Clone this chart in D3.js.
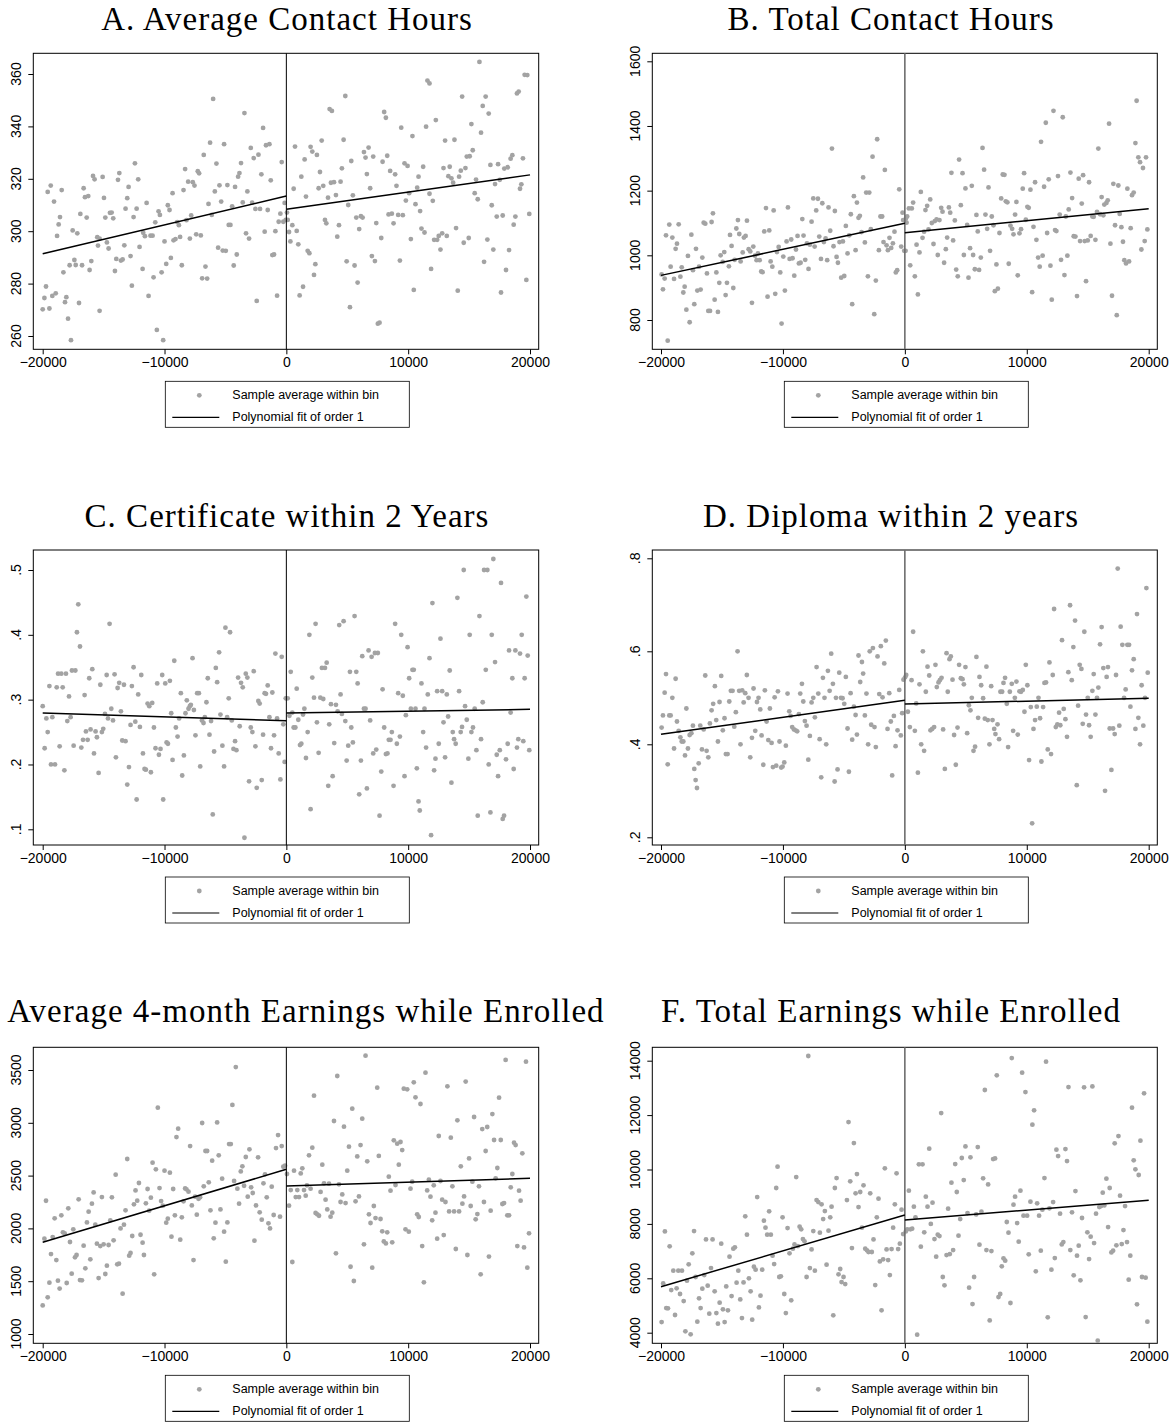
<!DOCTYPE html>
<html>
<head>
<meta charset="utf-8">
<script src="https://cdn.jsdelivr.net/npm/d3@7"></script>
<style>
  body { margin: 0; background: #fff; }
  svg { display: block; }
  .title { font-family: "Liberation Serif", "Times New Roman", serif; font-size: 33px; letter-spacing: 1px; fill: #000; }
  .tick text, .ylab { font-family: "Liberation Sans", Arial, sans-serif; font-size: 14px; fill: #000; }
  .legend text { font-family: "Liberation Sans", Arial, sans-serif; font-size: 12.5px; fill: #000; }
  .dot { fill: #a3a3a3; }
</style>
</head>
<body>
<svg id="chart" width="1175" height="1422"></svg>
<script>
// ---- data ----
const xTicks = [-20000, -10000, 0, 10000, 20000];

// A. Average Contact Hours
const binsA = [
 [-20000,270.2],[-19860,274.5],[-19730,278.9],[-19590,315],[-19450,270.5],[-19340,317.4],[-19210,275.3],[-19070,311.3],[-18930,276.3],[-18820,298.2],
 [-18690,302.6],[-18580,305.4],[-18440,315.7],[-18300,284.3],[-18170,272.9],[-18060,274.8],[-17920,266.6],[-17790,287],[-17680,258.4],[-17540,300.3],
 [-17400,289],[-17290,287.1],[-17160,299.2],[-17020,272.6],[-16910,306.6],[-16770,287],[-16640,316.4],[-16530,313],[-16390,305.2],[-16260,313.4],
 [-16150,285.2],[-16010,288.6],[-15870,321.1],[-15740,319.8],[-15520,297.7],[-15460,294.5],[-15330,297.2],[-15330,269.6],[-15080,320.7],[-14970,312.7],
 [-14860,305.2],[-14730,295.7],[-14590,293.4],[-14480,307],[-14340,307.1],[-14210,304.9],[-14070,284.8],[-13960,289.4],[-13820,319.6],[-13710,322.2],
 [-13580,288.8],[-13440,289.2],[-13300,294.6],[-13200,308.6],[-13060,312.6],[-12950,316.9],[-12790,290.5],[-12680,279.2],[-12540,305.4],[-12430,325.9],
 [-12290,308.6],[-12160,319.8],[-12050,294],[-11800,285.6],[-11750,299.4],[-11610,298.1],[-11470,310.8],[-11310,275.3],[-11150,298.3],[-10980,298.3],
 [-10900,282.4],[-10760,303.4],[-10630,262.3],[-10490,307.6],[-10380,306.2],[-10240,284.3],[-10110,258.4],[-10000,296.1],[-9860,287.5],[-9730,309.9],
 [-9590,308.1],[-9480,289.8],[-9340,314.5],[-9260,296.5],[-9100,297],[-8960,303.5],[-8820,302.3],[-8720,297.8],[-8580,287],[-8440,315.7],
 [-8310,323.7],[-8200,304.2],[-8060,318.9],[-7920,297.2],[-7810,306],[-7680,318.7],[-7540,317.4],[-7400,298.8],[-7270,322.9],[-7160,322.1],
 [-7020,298.4],[-6910,282],[-6780,329.1],[-6640,286.5],[-6500,281.9],[-6390,310.4],[-6260,333.8],[-6120,306.2],[-6010,350.5],[-5870,315.2],
 [-5740,325.8],[-5600,293.7],[-5490,317.5],[-5350,311.3],[-5220,292.6],[-5110,333.2],[-4970,292.5],[-4840,317.6],[-4730,302.4],[-4590,302.4],
 [-4450,309.5],[-4320,286.9],[-4210,316.9],[-4070,291.1],[-3960,320.8],[-3850,322.2],[-3720,326],[-3580,311],[-3440,345.1],[-3310,299.2],
 [-3200,315.2],[-3060,297.2],[-2920,331.8],[-2810,310.9],[-2680,327.9],[-2540,308.5],[-2430,273.4],[-2290,329.2],[-2160,308.5],[-2050,321.7],
 [-1910,339.4],[-1780,299.8],[-1670,332.8],[-1530,308.1],[-1390,333.2],[-1280,319.4],[-1150,290.9],[-1010,291.1],[-900,300],[-760,275.4],
 [-630,303.6],[-490,306.7],[-380,326.4],[-250,303.6],[-140,310.8],[-50,304.3],
 [50,307.1],[110,304.3],[220,299.7],[330,296.1],[490,302.3],[600,316.2],[710,332.3],[850,300.1],[980,295],[1090,275.5],
 [1230,320.8],[1370,278.8],[1500,327.4],[1610,313.2],[1750,292.5],[1890,291.6],[1990,332.2],[2130,330.4],[2270,283.3],[2380,287.4],
 [2510,329.1],[2650,316.4],[2760,322.6],[2900,334.6],[3030,317.3],[3170,304.3],[3280,303],[3420,312.8],[3550,346.6],[3660,318.5],
 [3740,345.9],[3910,318.7],[4070,313.8],[4180,297.9],[4320,302.3],[4450,318.9],[4560,324],[4700,334.9],[4840,351.6],[4950,288.5],
 [5080,310],[5220,271],[5330,326.8],[5460,313.7],[5600,286.9],[5740,305.2],[5850,280.4],[5980,300.8],[6120,305.7],[6260,305.2],
 [6370,330.2],[6500,328.1],[6610,321.8],[6750,331.9],[6880,316.4],[7020,290.5],[7130,328.5],[7270,288.6],[7380,303.1],[7510,264.7],
 [7650,265.1],[7790,297.4],[7900,326.5],[8030,345.5],[8170,343.3],[8280,328.8],[8390,306.4],[8520,323],[8660,306.7],[8800,303],
 [8930,321.7],[9040,317.3],[9180,306.2],[9320,288.8],[9430,339.5],[9560,306.1],[9700,325.9],[9810,311.7],[9950,324.9],[10080,314.5],
 [10220,297],[10350,336.3],[10460,277.6],[10600,310.3],[10740,316.6],[10850,320.8],[10980,307.7],[11090,301],[11230,324.6],[11340,299.5],
 [11470,339.9],[11580,357.5],[11750,356.4],[11750,314.3],[11880,285.6],[12020,311.6],[12130,296.7],[12270,342.4],[12380,296.7],[12510,298.2],
 [12650,293],[12790,299.2],[12900,324.1],[13030,334.6],[13170,298.2],[13300,321],[13410,324.6],[13550,320.2],[13690,318.5],[13800,334.9],
 [13930,301.2],[14070,277.3],[14180,320.8],[14320,323.1],[14430,351.4],[14560,295.6],[14700,324.1],[14810,328.5],[14970,297.4],[15050,328.6],
 [15190,340.9],[15300,330.9],[15460,314.5],[15570,319.7],[15710,312.2],[15850,364.6],[15980,337.6],[16120,347.8],[16230,288.3],[16360,351.4],
 [16500,296.8],[16610,344.9],[16750,325.3],[16860,309.9],[16990,293],[17130,318],[17270,305.6],[17380,325.6],[17520,319.6],[17620,276.6],
 [17760,306],[17890,323.9],[18030,285.2],[18170,324.4],[18280,292.8],[18410,327.7],[18550,329],[18660,302.5],[18800,305.6],[18930,352.6],
 [19070,353.3],[19180,316.2],[19290,317.9],[19420,327.8],[19560,359.7],[19700,281.4],[19780,359.6],[19940,306.6]
];
const fitA = [[[-20000, 291.4], [0, 313.4]], [[0, 308.4], [20000, 321.5]]];
const yTicksA = [260, 280, 300, 320, 340, 360];

// B. Total Contact Hours
const binsB = [
 [-19950,941],[-19840,895],[-19700,928],[-19590,1062],[-19450,736],[-19320,1095],[-19210,965],[-19070,1055],[-18930,927],[-18800,1020],
 [-18690,1036],[-18550,1096],[-18410,934],[-18300,963],[-18170,885],[-18060,903],[-17920,832],[-17790,998],[-17650,793],[-17510,1064],
 [-17380,954],[-17270,849],[-17130,1020],[-17020,891],[-16880,965],[-16750,894],[-16610,993],[-16500,1101],[-16370,1098],[-16230,944],
 [-16120,828],[-15980,828],[-15850,1103],[-15740,1130],[-15600,863],[-15460,947],[-15330,825],[-15220,915],[-15110,1000],[-14940,980],
 [-14810,1010],[-14700,877],[-14590,915],[-14430,966],[-14340,1063],[-14210,1029],[-14070,899],[-13960,986],[-13820,1083],[-13690,1109],
 [-13580,1066],[-13470,981],[-13300,1009],[-13200,1055],[-13060,1060],[-12950,1107],[-12810,1019],[-12680,1012],[-12540,853],[-12430,1027],
 [-12290,999],[-12160,985],[-12050,1006],[-11910,985],[-11780,950],[-11670,948],[-11530,1074],[-11390,1146],[-11260,872],[-11120,1077],
 [-11010,981],[-10870,965],[-10760,1139],[-10630,881],[-10490,1010],[-10350,1026],[-10220,947],[-10110,789],[-9970,996],[-9840,891],
 [-9700,1043],[-9590,1148],[-9450,989],[-9320,1049],[-9210,991],[-9070,937],[-8930,1018],[-8800,1060],[-8690,975],[-8550,977],
 [-8410,1112],[-8310,1061],[-8170,986],[-8030,1037],[-7900,958],[-7790,1033],[-7650,1104],[-7510,1176],[-7400,1027],[-7270,1139],
 [-7130,1175],[-7020,1058],[-6880,989],[-6770,1161],[-6640,1041],[-6500,1052],[-6370,985],[-6260,1148],[-6120,1076],[-5980,1330],
 [-5850,1028],[-5740,1137],[-5600,995],[-5490,977],[-5360,1041],[-5220,931],[-5080,1043],[-4970,936],[-4840,1091],[-4700,1006],
 [-4560,1062],[-4430,1127],[-4320,849],[-4180,1183],[-4040,1016],[-3930,1163],[-3800,1116],[-3690,1122],[-3550,1072],[-3420,1241],
 [-3280,1040],[-3170,1194],[-3030,935],[-2920,1194],[-2790,1081],[-2650,1305],[-2510,818],[-2380,922],[-2270,1359],[-2130,1016],
 [-2000,1120],[-1860,1120],[-1750,1041],[-1640,1264],[-1500,1031],[-1390,1016],[-1260,1054],[-1120,1023],[-980,1037],[-850,1073],
 [-740,947],[-630,954],[-460,1204],[-300,1027],[-190,1132],[-140,1109],[-50,1014],
 [80,1113],[140,1101],[60,1014],[190,1120],[330,1145],[440,969],[570,1145],[680,1163],[820,935],[960,1033],
 [1070,879],[1200,1009],[1310,1196],[1450,1054],[1580,1073],[1690,1140],[1830,1153],[1940,1080],[2080,1173],[2210,1100],
 [2350,1035],[2460,1106],[2600,1111],[2700,1001],[2840,1109],[2980,1147],[3090,1135],[3220,977],[3360,1019],[3470,1055],
 [3610,1148],[3720,1132],[3820,1255],[3960,1046],[4100,1108],[4210,956],[4340,935],[4450,1296],[4590,1155],[4730,1254],
 [4840,1001],[4970,1207],[5110,1094],[5220,931],[5350,1022],[5490,1215],[5600,1001],[5740,957],[5870,1125],[5980,1074],
 [6090,955],[6230,993],[6370,1332],[6500,1265],[6610,1126],[6750,1082],[6860,1210],[6990,1014],[7130,1120],[7270,1093],
 [7380,889],[7510,972],[7630,897],[7760,1069],[7900,1176],[8030,1250],[8170,1249],[8280,1167],[8410,1164],[8520,974],
 [8660,1092],[8800,1082],[8910,1065],[9040,1126],[9150,1165],[9260,938],[9400,1068],[9530,1081],[9670,1206],[9780,1254],
 [9920,1110],[10050,1150],[10160,1147],[10300,1203],[10440,886],[10550,1088],[10680,1226],[10790,1048],[10930,993],[11060,965],
 [11170,1351],[11300,999],[11420,1212],[11560,1410],[11670,1069],[11800,1235],[11940,968],[12050,863],[12190,1447],[12320,1078],
 [12430,1075],[12560,1245],[12700,1126],[12810,986],[12950,1427],[13090,939],[13200,1120],[13330,999],[13440,1142],[13580,1256],
 [13720,1177],[13850,1059],[13990,1058],[14120,874],[14260,1237],[14370,1044],[14510,1160],[14620,1248],[14750,1044],[14860,920],
 [15000,1046],[15110,1226],[15240,1060],[15380,1120],[15490,1119],[15630,1048],[15760,1134],[15870,1330],[16010,1127],[16140,1180],
 [16280,1124],[16360,1157],[16530,1162],[16640,1170],[16750,1407],[16860,1036],[16990,875],[17100,1221],[17240,1093],[17380,815],
 [17510,1216],[17620,1128],[17760,1087],[17890,1042],[18000,985],[18140,975],[18250,1206],[18390,981],[18520,1084],[18630,1186],
 [18770,1194],[18910,1347],[19010,1478],[19150,1303],[19290,1288],[19400,1018],[19530,1270],[19670,1044],[19780,1303],[19890,1080]
];
const fitB = [[[-20000, 938], [0, 1099]], [[0, 1070], [20000, 1144]]];
const yTicksB = [800, 1000, 1200, 1400, 1600];

// C. Certificate within 2 Years
const binsC = [
 [-20000,.290],[-19840,.225],[-19700,.271],[-19590,.250],[-19450,.321],[-19320,.200],[-19210,.273],[-18990,.200],[-18850,.319],[-18740,.340],
 [-18610,.228],[-18470,.340],[-18360,.319],[-18220,.191],[-18090,.340],[-17980,.267],[-17840,.305],[-17710,.273],[-17600,.345],[-17460,.229],
 [-17320,.345],[-17190,.404],[-17080,.447],[-16940,.382],[-16830,.226],[-16690,.238],[-16560,.307],[-16450,.251],[-16310,.238],[-16180,.333],
 [-16070,.254],[-15930,.347],[-15790,.217],[-15660,.251],[-15550,.242],[-15410,.187],[-15270,.323],[-15140,.250],[-15030,.255],[-14890,.278],
 [-14750,.338],[-14640,.271],[-14510,.417],[-14370,.286],[-14230,.268],[-14100,.339],[-13990,.211],[-13850,.318],[-13720,.326],[-13580,.282],
 [-13470,.237],[-13330,.323],[-13200,.236],[-13060,.169],[-12920,.196],[-12790,.261],[-12680,.321],[-12540,.350],[-12400,.266],[-12290,.146],
 [-12160,.308],[-12020,.258],[-11910,.338],[-11770,.217],[-11640,.193],[-11530,.192],[-11390,.294],[-11250,.290],[-11120,.188],[-11010,.295],
 [-10870,.257],[-10740,.225],[-10600,.325],[-10460,.215],[-10330,.224],[-10190,.338],[-10110,.146],[-9940,.325],[-9830,.234],[-9720,.232],
 [-9560,.329],[-9450,.279],[-9340,.207],[-9200,.360],[-9070,.257],[-8930,.243],[-8800,.271],[-8660,.310],[-8550,.183],[-8410,.214],
 [-8280,.279],[-8170,.299],[-8030,.286],[-7920,.290],[-7840,.292],[-7700,.364],[-7590,.284],[-7460,.245],[-7320,.310],[-7180,.310],
 [-7070,.197],[-6930,.268],[-6800,.264],[-6690,.273],[-6560,.296],[-6450,.333],[-6310,.246],[-6180,.267],[-6040,.123],[-5930,.220],
 [-5790,.349],[-5680,.327],[-5520,.373],[-5410,.277],[-5250,.229],[-5110,.197],[-5000,.411],[-4860,.273],[-4730,.302],[-4620,.404],
 [-4480,.268],[-4340,.224],[-4210,.236],[-4100,.222],[-3960,.334],[-3830,.259],[-3720,.326],[-3580,.319],[-3440,.087],[-3330,.340],
 [-3200,.334],[-3060,.174],[-2920,.257],[-2790,.250],[-2680,.344],[-2540,.228],[-2430,.164],[-2300,.298],[-2190,.294],[-2020,.176],
 [-1910,.246],[-1780,.310],[-1670,.309],[-1530,.322],[-1390,.273],[-1260,.225],[-1150,.311],[-1010,.245],[-900,.371],[-760,.271],
 [-630,.217],[-490,.177],[-380,.366],[-250,.262],[-140,.204],[-50,.302],
 [110,.302],[250,.275],[360,.343],[490,.280],[600,.257],[740,.257],[850,.317],[980,.269],[1120,.230],[1230,.232],
 [1370,.277],[1480,.286],[1610,.210],[1750,.250],[1890,.400],[1990,.131],[2130,.334],[2270,.303],[2400,.417],[2510,.265],
 [2650,.218],[2790,.303],[2920,.349],[3030,.301],[3170,.349],[3310,.357],[3440,.167],[3520,.262],[3660,.293],[3800,.182],
 [3930,.233],[4070,.292],[4210,.282],[4340,.415],[4450,.308],[4560,.278],[4700,.421],[4840,.267],[4950,.206],[5080,.229],
 [5220,.343],[5330,.257],[5460,.234],[5600,.429],[5740,.343],[5850,.325],[5980,.154],[6120,.206],[6230,.367],[6370,.286],
 [6500,.286],[6610,.163],[6750,.376],[6880,.268],[7000,.366],[7130,.217],[7270,.372],[7380,.223],[7510,.372],[7650,.121],
 [7790,.189],[7900,.316],[8030,.257],[8170,.216],[8300,.217],[8410,.238],[8550,.238],[8660,.250],[8800,.167],[8930,.417],
 [9070,.232],[9180,.310],[9320,.243],[9430,.400],[9560,.306],[9700,.182],[9810,.276],[9950,.381],[10080,.333],[10220,.286],
 [10350,.346],[10460,.346],[10600,.286],[10710,.194],[10850,.143],[10950,.129],[11090,.325],[11230,.250],[11340,.286],[11470,.226],
 [11610,.308],[11750,.364],[11880,.091],[11990,.449],[12130,.191],[12240,.209],[12380,.313],[12510,.232],[12650,.394],[12790,.313],
 [12900,.265],[13030,.211],[13170,.308],[13280,.274],[13410,.345],[13550,.172],[13660,.250],[13770,.239],[13900,.232],[14040,.457],
 [14180,.313],[14310,.250],[14420,.258],[14560,.500],[14670,.290],[14810,.269],[14940,.209],[15050,.400],[15190,.250],[15320,.257],
 [15460,.286],[15600,.222],[15710,.121],[15850,.429],[15980,.239],[16120,.296],[16230,.500],[16370,.346],[16500,.500],[16610,.200],
 [16750,.126],[16860,.400],[16990,.517],[17130,.358],[17270,.215],[17380,.182],[17520,.222],[17620,.480],[17760,.116],[17870,.121],
 [18030,.208],[18170,.232],[18280,.376],[18410,.280],[18550,.333],[18660,.193],[18800,.376],[18930,.226],[19040,.239],[19180,.371],
 [19320,.400],[19450,.236],[19560,.333],[19700,.459],[19810,.368],[19940,.222]
];
const fitC = [[[-20000, .2795], [0, .2676]], [[0, .2795], [20000, .285]]];
const yTicksC = [.1, .2, .3, .4, .5];

// D. Diploma within 2 years
const binsD = [
 [-19950,.436],[-19840,.462],[-19700,.511],[-19590,.551],[-19450,.357],[-19320,.462],[-19210,.462],[-19070,.500],[-18930,.391],[-18800,.541],
 [-18690,.449],[-18550,.429],[-18410,.415],[-18300,.406],[-18170,.406],[-18030,.376],[-17920,.477],[-17790,.391],[-17650,.420],[-17510,.424],
 [-17380,.440],[-17270,.347],[-17160,.323],[-17050,.306],[-16910,.359],[-16780,.440],[-16640,.389],[-16500,.432],[-16370,.548],[-16260,.386],
 [-16120,.372],[-15990,.445],[-15850,.473],[-15720,.487],[-15580,.525],[-15470,.452],[-15330,.406],[-15200,.491],[-15060,.547],[-14930,.430],
 [-14790,.456],[-14680,.379],[-14540,.379],[-14400,.492],[-14270,.515],[-14130,.515],[-13990,.438],[-13860,.469],[-13720,.600],[-13590,.515],
 [-13480,.400],[-13340,.516],[-13220,.490],[-13090,.510],[-12960,.549],[-12820,.500],[-12680,.372],[-12540,.414],[-12410,.520],[-12270,.429],
 [-12130,.491],[-12000,.500],[-11860,.475],[-11750,.419],[-11610,.356],[-11480,.516],[-11340,.449],[-11200,.409],[-11070,.477],[-10930,.403],
 [-10820,.351],[-10680,.501],[-10550,.354],[-10410,.514],[-10280,.406],[-10140,.350],[-10030,.352],[-9890,.361],[-9760,.397],[-9620,.509],
 [-9480,.471],[-9370,.461],[-9240,.437],[-9100,.432],[-8960,.430],[-8830,.428],[-8690,.465],[-8580,.509],[-8440,.530],[-8330,.492],
 [-8200,.450],[-8060,.440],[-7920,.367],[-7790,.418],[-7650,.490],[-7510,.500],[-7380,.458],[-7240,.566],[-7100,.509],[-6990,.411],
 [-6860,.329],[-6720,.543],[-6590,.500],[-6450,.400],[-6310,.558],[-6170,.515],[-6040,.595],[-5900,.530],[-5760,.320],[-5650,.500],
 [-5520,.346],[-5380,.554],[-5240,.500],[-5110,.499],[-4970,.487],[-4840,.545],[-4700,.434],[-4590,.341],[-4450,.510],[-4320,.410],
 [-4180,.481],[-4040,.463],[-3930,.421],[-3800,.591],[-3660,.534],[-3520,.577],[-3420,.552],[-3280,.462],[-3150,.509],[-3010,.400],
 [-2880,.600],[-2760,.442],[-2620,.607],[-2490,.437],[-2380,.394],[-2240,.589],[-2100,.508],[-1970,.611],[-1830,.501],[-1690,.574],
 [-1560,.623],[-1420,.433],[-1280,.510],[-1150,.449],[-1040,.333],[-900,.461],[-760,.396],[-600,.430],[-460,.517],[-330,.419],
 [-220,.467],[-110,.539],
 [20,.544],[110,.549],[250,.470],[410,.437],[550,.538],[680,.642],[820,.429],[930,.488],[1070,.339],[1200,.529],
 [1340,.400],[1480,.600],[1580,.386],[1720,.513],[1860,.567],[2000,.548],[2100,.430],[2240,.433],[2400,.437],[2510,.571],
 [2620,.523],[2760,.533],[2870,.538],[3010,.543],[3140,.432],[3280,.347],[3420,.596],[3520,.513],[3660,.583],[3770,.589],
 [3910,.539],[4040,.420],[4180,.356],[4320,.436],[4450,.571],[4590,.542],[4730,.540],[4840,.529],[4970,.566],[5110,.424],
 [5250,.484],[5380,.473],[5490,.500],[5630,.386],[5760,.395],[5870,.588],[6010,.457],[6120,.545],[6260,.527],[6420,.499],
 [6560,.455],[6690,.567],[6800,.452],[6940,.400],[7080,.525],[7190,.452],[7330,.433],[7430,.422],[7600,.443],[7730,.411],
 [7840,.513],[7980,.513],[8090,.532],[8220,.543],[8360,.487],[8470,.394],[8610,.513],[8770,.530],[8880,.429],[9020,.500],
 [9150,.535],[9260,.421],[9400,.514],[9530,.513],[9670,.517],[9810,.470],[9920,.571],[10050,.527],[10190,.366],[10330,.480],
 [10440,.230],[10550,.433],[10680,.452],[10820,.481],[10960,.500],[11090,.456],[11200,.363],[11340,.480],[11450,.532],[11580,.533],
 [11720,.389],[11860,.576],[11990,.379],[12130,.549],[12240,.691],[12380,.437],[12510,.443],[12650,.468],[12750,.441],[12890,.624],
 [13030,.476],[13170,.454],[13300,.416],[13410,.555],[13550,.699],[13690,.538],[13820,.609],[13960,.666],[14100,.312],[14210,.483],
 [14340,.571],[14480,.562],[14590,.444],[14720,.642],[14860,.464],[15000,.500],[15110,.441],[15240,.416],[15380,.515],[15490,.551],
 [15630,.464],[15760,.500],[15870,.522],[16010,.615],[16140,.652],[16280,.564],[16420,.300],[16550,.545],[16660,.566],[16800,.434],
 [16940,.345],[17080,.434],[17210,.422],[17320,.549],[17460,.778],[17590,.440],[17700,.653],[17840,.614],[17980,.500],[18110,.518],
 [18250,.614],[18390,.614],[18500,.481],[18630,.559],[18770,.583],[18910,.433],[19040,.680],[19150,.457],[19290,.400],[19420,.527],
 [19560,.440],[19700,.500],[19810,.736],[19920,.554]
];
const fitD = [[[-20000, .4215], [0, .4946]], [[0, .4867], [20000, .499]]];
const yTicksD = [.2, .4, .6, .8];

// E. Average 4-month Earnings while Enrolled
const binsE = [
 [-20000,1271],[-19860,1903],[-19730,2262],[-19590,1347],[-19450,1486],[-19320,1757],[-19180,1918],[-19020,2095],[-18880,1700],[-18750,1505],
 [-18610,1430],[-18470,2124],[-18340,1963],[-18200,1953],[-18030,1483],[-17900,2190],[-17760,1871],[-17620,1571],[-17490,1991],[-17350,1726],
 [-17220,1748],[-17050,2275],[-16940,1511],[-16780,1508],[-16640,1836],[-16500,1622],[-16370,2057],[-16230,2158],[-16090,1707],[-15960,2234],
 [-15820,2341],[-15680,2035],[-15550,1855],[-15410,1530],[-15270,1833],[-15140,2297],[-15000,1849],[-14860,1568],[-14730,1647],[-14590,1843],
 [-14450,2076],[-14320,2294],[-14180,1887],[-14010,2509],[-13880,1660],[-13740,1666],[-13610,2000],[-13440,1382],[-13330,2035],[-13200,2171],
 [-13060,2657],[-12900,1742],[-12790,1767],[-12650,1928],[-12510,2228],[-12380,2360],[-12240,2263],[-12100,2430],[-11970,1940],[-11800,1865],
 [-11690,1748],[-11530,2237],[-11390,2373],[-11260,2168],[-11120,2291],[-10980,2622],[-10850,1565],[-10710,2559],[-10550,3143],[-10410,2382],
 [-10280,2259],[-10140,2215],[-10000,2547],[-9860,2054],[-9730,2092],[-9560,2528],[-9430,1922],[-9290,2373],[-9150,2124],[-9020,2865],
 [-8880,2944],[-8710,1893],[-8580,2105],[-8440,2256],[-8310,2379],[-8200,2370],[-8030,2348],[-7900,2780],[-7760,2218],[-7620,1700],
 [-7490,2300],[-7350,2130],[-7210,2281],[-7080,2294],[-6910,2998],[-6780,2398],[-6640,2733],[-6500,2733],[-6370,2436],[-6230,2171],
 [-6090,2641],[-5960,1906],[-5820,2054],[-5680,3004],[-5550,2692],[-5410,2180],[-5270,2471],[-5110,1969],[-4970,1685],[-4840,2057],
 [-4700,2799],[-4560,2799],[-4430,3169],[-4290,2449],[-4150,3528],[-4020,2376],[-3880,2234],[-3740,2540],[-3610,2588],[-3470,2404],
 [-3330,2676],[-3170,2300],[-3030,2749],[-2890,2389],[-2760,2335],[-2620,1884],[-2490,2218],[-2320,2673],[-2190,2152],[-2020,2083],
 [-1880,2427],[-1750,2512],[-1610,2294],[-1470,2048],[-1340,2000],[-1200,2395],[-1040,2127],[-850,2761],[-680,2884],[-520,2111],
 [-380,2780],[-250,2584],[-110,2594],
 [50,2515],[220,2215],[360,2363],[490,1682],[630,2547],[770,2297],[900,2363],[1040,2297],[1180,2521],[1310,2569],
 [1450,2363],[1590,2310],[1690,2408],[1860,2692],[1990,2376],[2130,2764],[2270,3257],[2400,2146],[2540,2133],[2680,2120],
 [2810,2345],[2950,2603],[3090,2427],[3220,2272],[3360,2180],[3500,2424],[3630,2111],[3770,2149],[3910,3017],[4070,1764],
 [4180,3443],[4320,2417],[4450,2250],[4590,2322],[4730,2963],[4860,2240],[5000,2547],[5140,2774],[5270,1637],[5410,3134],
 [5540,1502],[5680,2256],[5820,2682],[5960,2303],[6090,2789],[6230,3039],[6370,1849],[6500,3636],[6640,2635],[6780,2133],
 [6910,2051],[7050,1628],[7180,2212],[7320,2098],[7460,3333],[7590,2686],[7730,2089],[7870,1972],[8000,1877],[8170,1858],
 [8280,1963],[8410,2490],[8550,2357],[8690,1868],[8820,2834],[8960,2411],[9100,2802],[9230,2603],[9370,2818],[9510,2742],
 [9640,3323],[9780,1991],[9920,3317],[10050,1969],[10190,2376],[10330,2442],[10460,3383],[10600,3241],[10740,2133],[10870,2108],
 [11010,3178],[11150,1833],[11290,1489],[11420,3475],[11560,2360],[11700,2461],[11830,2300],[11970,2076],[12100,2408],[12240,2149],
 [12380,1903],[12510,2875],[12650,2449],[12790,2272],[12920,1937],[13060,2250],[13220,3345],[13360,2161],[13500,2859],[13630,2398],
 [13770,2161],[13910,1805],[14040,3023],[14180,2161],[14320,2588],[14450,2234],[14590,2303],[14720,3390],[14860,1748],[15000,2663],
 [15130,2212],[15270,2442],[15410,3055],[15540,2086],[15680,2136],[15810,2398],[15950,1565],[16080,2941],[16220,2250],[16360,2733],
 [16490,2960],[16630,1733],[16770,2168],[16910,3083],[17050,2837],[17180,2474],[17320,2572],[17460,3238],[17600,2837],[17730,2231],
 [17870,2240],[18000,3595],[18140,2124],[18280,2124],[18420,2389],[18550,2515],[18690,2812],[18820,2789],[18960,1833],[19100,2357],
 [19230,2263],[19370,2711],[19510,1820],[19670,3579],[19780,1628],[19920,1953]
];
const fitE = [[[-20000, 1868], [0, 2560]], [[0, 2401], [20000, 2474]]];
const yTicksE = [1000, 1500, 2000, 2500, 3000, 3500];

// F. Total Earnings while Enrolled
const binsF = [
 [-19950,4392],[-19820,5813],[-19680,7725],[-19570,4907],[-19430,4895],[-19290,7174],[-19160,5568],[-18990,6279],[-18850,4650],[-18720,5630],
 [-18580,6279],[-18440,5422],[-18280,6279],[-18140,5164],[-18000,4049],[-17870,5912],[-17730,6512],[-17570,3939],[-17430,6917],[-17290,7738],
 [-17160,6047],[-17020,4404],[-16880,5262],[-16750,4907],[-16610,5618],[-16450,6120],[-16310,7431],[-16170,5728],[-16040,4699],[-15900,6377],
 [-15770,7431],[-15600,5520],[-15460,4723],[-15330,4331],[-15190,5103],[-15060,7272],[-14920,4858],[-14780,4392],[-14650,5703],[-14510,4821],
 [-14380,6794],[-14210,5348],[-14070,7088],[-13940,7137],[-13800,5838],[-13660,6279],[-13500,5225],[-13360,4539],[-13230,5850],[-13090,8277],
 [-12950,7603],[-12790,6000],[-12650,5520],[-12520,4478],[-12380,6426],[-12240,6316],[-12110,8988],[-11970,4931],[-11840,5360],[-11700,6316],
 [-11560,8118],[-11430,7860],[-11290,7603],[-11130,8461],[-10990,7603],[-10850,6831],[-10720,6524],[-10550,9319],[-10440,10103],[-10300,6047],
 [-10170,6071],[-10030,8240],[-9890,5422],[-9760,4723],[-9620,7848],[-9460,6917],[-9320,5189],[-9180,7088],[-9050,7247],[-8910,9723],
 [-8770,7186],[-8630,7897],[-8500,7799],[-8360,7443],[-8230,7358],[-8060,6047],[-7920,14172],[-7790,6377],[-7650,7063],[-7510,7738],
 [-7380,6279],[-7240,8877],[-7100,8804],[-6970,7676],[-6830,8718],[-6700,8179],[-6560,8473],[-6420,6500],[-6260,7750],[-6120,8240],
 [-6010,8632],[-5870,4637],[-5740,9319],[-5600,9686],[-5440,6145],[-5300,6341],[-5190,5863],[-5030,6047],[-4890,5789],[-4750,8877],
 [-4620,11745],[-4480,9564],[-4340,7113],[-4180,10973],[-4040,9123],[-3930,9833],[-3800,8620],[-3660,9172],[-3520,7860],[-3390,9417],
 [-3250,7088],[-3110,7027],[-2980,6966],[-2840,9123],[-2710,6966],[-2570,7431],[-2430,5752],[-2300,8240],[-2160,8926],[-2050,6622],
 [-1910,4821],[-1780,6696],[-1640,10042],[-1500,7063],[-1370,6671],[-1230,6120],[-1090,7076],[-960,7860],[-820,8718],[-680,9858],
 [-550,7076],[-410,7272],[-270,8522],[-140,7627],
 [80,7725],[190,7799],[330,9221],[460,7799],[600,7823],[740,8632],[870,8240],[1010,3926],[1150,10189],[1310,7162],
 [1450,10189],[1590,7689],[1720,9000],[1860,8632],[2000,10765],[2130,8000],[2270,8779],[2430,7443],[2570,6794],[2700,7603],
 [2840,7554],[2980,12076],[3110,6047],[3250,5740],[3420,6855],[3550,8559],[3690,6892],[3820,9515],[3960,7039],[4130,10201],
 [4260,9172],[4400,7566],[4540,8179],[4670,10422],[4830,9613],[4970,10850],[5140,8399],[5270,5654],[5380,10446],[5550,5054],
 [5680,6047],[5850,8350],[5980,10826],[6120,7235],[6280,8449],[6420,9674],[6560,12922],[6690,7039],[6830,9453],[6960,4453],
 [7100,7002],[7240,10385],[7400,10409],[7540,13461],[7680,5311],[7820,5422],[7950,6439],[8090,6733],[8230,6647],[8360,8069],
 [8500,7676],[8660,5091],[8770,14098],[8910,8706],[9040,9000],[9210,8032],[9340,7346],[9480,9221],[9620,13559],[9730,8302],
 [9890,12848],[10030,8302],[10160,6880],[10300,8816],[10460,11647],[10600,12174],[10740,6255],[10850,8755],[11010,8302],[11150,7014],
 [11280,8522],[11450,9686],[11580,13963],[11720,4564],[11860,8571],[12020,6316],[12160,8804],[12300,6745],[12430,10728],[12570,10495],
 [12730,8375],[12870,7247],[13000,7333],[13170,10752],[13300,10311],[13420,13032],[13570,7039],[13710,8424],[13850,6108],[13990,9208],
 [14120,6831],[14260,7198],[14400,5924],[14530,8216],[14700,13020],[14830,4576],[14970,7689],[15110,6708],[15240,7529],[15380,13056],
 [15520,7296],[15680,8375],[15820,3706],[15950,8620],[16090,8657],[16230,9147],[16360,8681],[16530,9662],[16670,7885],[16800,9319],
 [16940,6953],[17080,7014],[17210,10961],[17350,7211],[17520,11230],[17650,9037],[17790,7260],[17930,7774],[18060,8657],[18220,7333],
 [18360,5948],[18490,6831],[18630,12272],[18770,10336],[18910,10005],[19040,5042],[19180,9797],[19320,11059],[19450,6047],[19620,12799],
 [19750,6022],[19890,4404]
];
const fitF = [[[-20000, 5691], [0, 8327]], [[0, 8143], [20000, 8868]]];
const yTicksF = [4000, 6000, 8000, 10000, 12000, 14000];

const titles = [
  "A. Average Contact Hours", "B. Total Contact Hours",
  "C. Certificate within 2 Years", "D. Diploma within 2 years",
  "E. Average 4-month Earnings while Enrolled", "F. Total Earnings while Enrolled"
];
const legendLabels = ["Sample average within bin", "Polynomial fit of order 1"];

// ---- layout ----
const cols = [
  {left: 33.3, right: 538.7, x0: 42.7, x1: 530, center: 287, cutColor: "#000", cutWidth: 1},
  {left: 652.3, right: 1157.3, x0: 661, x1: 1148.7, center: 891, cutColor: "#6e6e6e", cutWidth: 1.6}
];
const rows = [
  {top: 53.3, bottom: 349.3, titleY: 30},
  {top: 550, bottom: 845, titleY: 527},
  {top: 1047.3, bottom: 1343.3, titleY: 1022}
];

const panels = [
  {col: 0, row: 0, bins: binsA, fit: fitA, ticks: yTicksA, ty: [336, 74]},
  {col: 1, row: 0, bins: binsB, fit: fitB, ticks: yTicksB, ty: [320, 61.3]},
  {col: 0, row: 1, bins: binsC, fit: fitC, ticks: yTicksC, ty: [829.3, 570]},
  {col: 1, row: 1, bins: binsD, fit: fitD, ticks: yTicksD, ty: [837.3, 558.3]},
  {col: 0, row: 2, bins: binsE, fit: fitE, ticks: yTicksE, ty: [1334, 1070]},
  {col: 1, row: 2, bins: binsF, fit: fitF, ticks: yTicksF, ty: [1332.7, 1060.7]}
];

const svg = d3.select("#chart");
const fmtX = d => d < 0 ? "\u2212" + Math.abs(d) : String(d);
const fmtY = d => d < 1 ? String(d).replace(/^0/, "") : String(d);

panels.forEach(function(p, i){
  const c = cols[p.col], r = rows[p.row];
  const tk = p.ticks;

  const x = d3.scaleLinear().domain([-20000, 20000]).range([c.x0, c.x1]);
  const y = d3.scaleLinear().domain([tk[0], tk[tk.length - 1]]).range(p.ty);

  const g = svg.append("g");

  // title
  g.append("text")
    .attr("class", "title")
    .attr("x", c.center)
    .attr("y", r.titleY)
    .attr("text-anchor", "middle")
    .text(titles[i]);

  // frame
  g.append("rect")
    .attr("x", c.left).attr("y", r.top)
    .attr("width", c.right - c.left).attr("height", r.bottom - r.top)
    .attr("fill", "none").attr("stroke", "#000").attr("stroke-width", 1);

  // x axis
  const xa = g.append("g")
    .attr("transform", "translate(0," + r.bottom + ")")
    .call(d3.axisBottom(x).tickValues(xTicks).tickFormat(fmtX).tickSize(5).tickSizeOuter(0).tickPadding(3));
  xa.select(".domain").remove();

  // y axis (ticks only, labels rotated)
  const ya = g.append("g")
    .attr("transform", "translate(" + c.left + ",0)")
    .call(d3.axisLeft(y).tickValues(tk).tickFormat("").tickSize(5).tickSizeOuter(0));
  ya.select(".domain").remove();

  g.selectAll(".ylab").data(tk).enter().append("text")
    .attr("class", "ylab")
    .attr("x", c.left - 17)
    .attr("y", d => y(d))
    .attr("text-anchor", "middle")
    .attr("dominant-baseline", "central")
    .attr("transform", d => "rotate(-90," + (c.left - 17) + "," + y(d) + ")")
    .text(fmtY);

  // scatter
  g.selectAll(".dot").data(p.bins).enter().append("circle")
    .attr("class", "dot")
    .attr("cx", d => x(d[0]))
    .attr("cy", d => y(d[1]))
    .attr("r", 2.4);

  // cutoff line
  g.append("line")
    .attr("x1", x(0)).attr("x2", x(0))
    .attr("y1", r.top).attr("y2", r.bottom)
    .attr("stroke", c.cutColor).attr("stroke-width", c.cutWidth);

  // linear fits
  const line = d3.line().x(d => x(d[0])).y(d => y(d[1]));
  p.fit.forEach(function(seg){
    g.append("path").datum(seg)
      .attr("d", line)
      .attr("fill", "none").attr("stroke", "#000").attr("stroke-width", 1.5);
  });

  // legend
  const lx = c.left + 132, ly = r.bottom + 32;
  const lg = g.append("g").attr("class", "legend").attr("transform", "translate(" + lx + "," + ly + ")");
  lg.append("rect").attr("width", 244).attr("height", 46)
    .attr("fill", "#fff").attr("stroke", "#000").attr("stroke-width", 0.8);
  lg.append("circle").attr("class", "dot").attr("cx", 34).attr("cy", 14).attr("r", 2.4);
  lg.append("line").attr("x1", 7).attr("x2", 54).attr("y1", 36).attr("y2", 36)
    .attr("stroke", "#000").attr("stroke-width", 1.2);
  lg.selectAll("text").data(legendLabels).enter().append("text")
    .attr("x", 67).attr("y", (d, k) => k === 0 ? 14 : 36)
    .attr("dominant-baseline", "central")
    .text(d => d);
});
</script>
</body>
</html>
